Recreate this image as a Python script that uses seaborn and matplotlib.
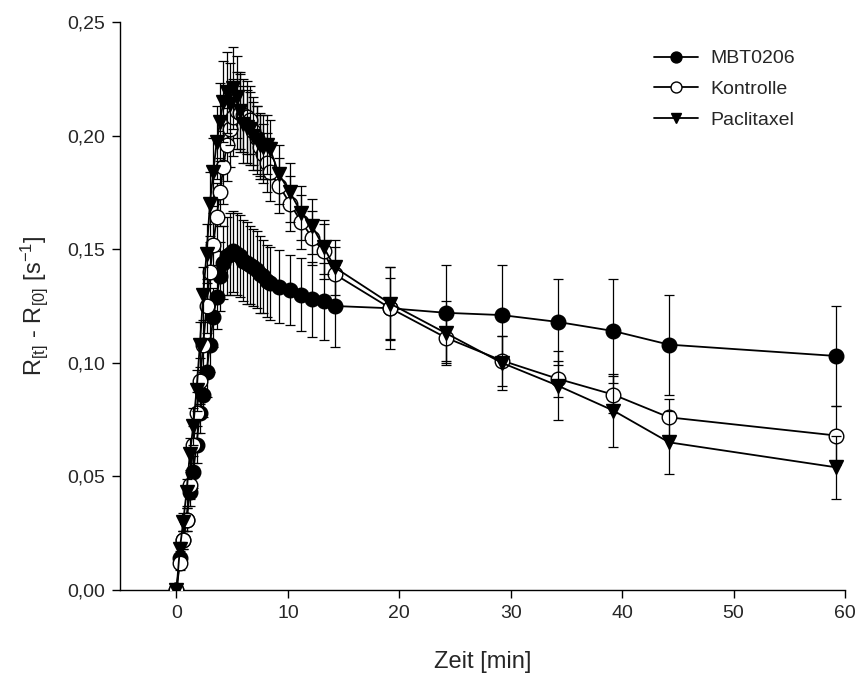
import matplotlib
matplotlib.use("Agg")
import matplotlib.pyplot as plt
import seaborn as sns
import pandas as pd
from matplotlib.ticker import FuncFormatter

# ---------------- data ----------------
time_min = [0.0, 0.3, 0.6, 0.9, 1.2, 1.5, 1.8, 2.1, 2.4, 2.7,
            3.0, 3.3, 3.6, 3.9, 4.2, 4.5, 4.8, 5.1, 5.4, 5.7,
            6.0, 6.3, 6.6, 6.9, 7.2, 7.5, 7.8, 8.1, 8.4,
            9.2, 10.2, 11.2, 12.2, 13.2, 14.2,
            19.2, 24.2, 29.2, 34.2, 39.2, 44.2, 59.2]

mbt_vals = [0.000, 0.014, 0.022, 0.031, 0.043, 0.052, 0.064, 0.078, 0.086, 0.096,
            0.108, 0.120, 0.129, 0.138, 0.144, 0.147, 0.148, 0.149, 0.148, 0.147,
            0.145, 0.144, 0.143, 0.142, 0.141, 0.139, 0.138, 0.136, 0.135,
            0.1335, 0.132, 0.130, 0.128, 0.127, 0.125,
            0.124, 0.122, 0.121, 0.118, 0.114, 0.108, 0.103]
mbt_err = [0.002, 0.003, 0.004, 0.005, 0.006, 0.007, 0.008, 0.009, 0.010, 0.011,
           0.012, 0.013, 0.014, 0.015, 0.016, 0.017, 0.018, 0.018, 0.018, 0.018,
           0.018, 0.018, 0.017, 0.017, 0.017, 0.017, 0.016, 0.016, 0.016,
           0.016, 0.0155, 0.016, 0.0165, 0.017, 0.018,
           0.018, 0.021, 0.022, 0.019, 0.023, 0.022, 0.022]

kon_vals = [0.000, 0.012, 0.022, 0.031, 0.046, 0.064, 0.078, 0.092, 0.108, 0.125,
            0.140, 0.152, 0.164, 0.175, 0.186, 0.196, 0.203, 0.208, 0.211, 0.210,
            0.209, 0.208, 0.207, 0.202, 0.199, 0.195, 0.192, 0.188, 0.184,
            0.178, 0.170, 0.162, 0.155, 0.149, 0.139,
            0.124, 0.111, 0.101, 0.093, 0.086, 0.076, 0.068]
kon_err = [0.002, 0.003, 0.004, 0.005, 0.006, 0.008, 0.009, 0.010, 0.011, 0.012,
           0.013, 0.014, 0.015, 0.015, 0.016, 0.016, 0.017, 0.017, 0.017, 0.017,
           0.016, 0.016, 0.015, 0.015, 0.014, 0.014, 0.013, 0.013, 0.013,
           0.012, 0.012, 0.012, 0.012, 0.012, 0.012,
           0.0135, 0.011, 0.011, 0.008, 0.008, 0.008, 0.013]

pac_vals = [0.000, 0.018, 0.030, 0.043, 0.060, 0.072, 0.088, 0.108, 0.130, 0.148,
            0.170, 0.184, 0.197, 0.206, 0.215, 0.219, 0.214, 0.221, 0.217, 0.211,
            0.205, 0.204, 0.203, 0.200, 0.198, 0.196, 0.195, 0.196, 0.194,
            0.183, 0.175, 0.166, 0.160, 0.151, 0.142,
            0.126, 0.113, 0.100, 0.090, 0.079, 0.065, 0.054]
pac_err = [0.002, 0.003, 0.004, 0.006, 0.007, 0.008, 0.009, 0.010, 0.012, 0.013,
           0.014, 0.015, 0.016, 0.017, 0.018, 0.018, 0.018, 0.018, 0.018, 0.017,
           0.017, 0.016, 0.016, 0.015, 0.015, 0.014, 0.014, 0.013, 0.013,
           0.013, 0.013, 0.012, 0.012, 0.012, 0.012,
           0.016, 0.014, 0.012, 0.015, 0.016, 0.014, 0.014]

series_names = ["MBT0206", "Kontrolle", "Paclitaxel"]
x_ticks = [0, 10, 20, 30, 40, 50, 60]
y_ticks = [0.00, 0.05, 0.10, 0.15, 0.20, 0.25]

# ---------------- style ----------------
sns.set_style("ticks")
plt.rcParams["font.family"] = ["Liberation Sans", "DejaVu Sans"]
plt.rcParams["mathtext.default"] = "regular"
plt.rcParams["mathtext.fontset"] = "custom"
plt.rcParams["mathtext.rm"] = "Liberation Sans"
plt.rcParams["mathtext.it"] = "Liberation Sans"

fig = plt.figure(figsize=(8.61, 6.86), dpi=100)
ax = fig.add_axes([120 / 861, 1 - 590 / 686, (845 - 120) / 861, (590 - 22) / 686])

styles = {
    "MBT0206": dict(marker="o", markerfacecolor="black"),
    "Kontrolle": dict(marker="o", markerfacecolor="white"),
    "Paclitaxel": dict(marker="v", markerfacecolor="black"),
}
data = {
    "MBT0206": (mbt_vals, mbt_err),
    "Kontrolle": (kon_vals, kon_err),
    "Paclitaxel": (pac_vals, pac_err),
}

for z, name in enumerate(series_names):
    vals, errs = data[name]
    df = pd.DataFrame({"t": time_min, "v": vals, "e": errs})
    ax.errorbar(df["t"], df["v"], yerr=df["e"], fmt="none", ecolor="black",
                elinewidth=0.9, capsize=3.6, capthick=0.9, zorder=2 + z)
    sns.lineplot(data=df, x="t", y="v", ax=ax, color="black", linewidth=1.3,
                 markersize=10.5, markeredgecolor="black", markeredgewidth=1.0,
                 label=name, zorder=3 + z, **styles[name])

ax.set_xlim(-5.07, 60)
ax.set_ylim(0, 0.25)
ax.set_xticks(x_ticks)
ax.set_yticks(y_ticks)
ax.yaxis.set_major_formatter(FuncFormatter(lambda v, p: f"{v:.2f}".replace(".", ",")))
ax.tick_params(axis="both", labelsize=14, length=6, width=1, color="black",
               direction="out", pad=5)
for side in ("top", "right"):
    ax.spines[side].set_visible(False)
for side in ("left", "bottom"):
    ax.spines[side].set_color("black")
    ax.spines[side].set_linewidth(1.0)

ax.set_xlabel("Zeit [min]", fontsize=17, labelpad=21)
ax.set_ylabel(r"R$_{[t]}$ - R$_{[0]}$ [s$^{-1}$]", fontsize=17, labelpad=12)

leg = ax.legend(loc="upper left", bbox_to_anchor=(644 / 861, 1 - 40 / 686),
                bbox_transform=fig.transFigure, frameon=False, fontsize=14,
                markerscale=0.75, handlelength=2.3, handletextpad=0.6,
                labelspacing=0.68, borderpad=0)

fig.savefig("out.png", dpi=100)
